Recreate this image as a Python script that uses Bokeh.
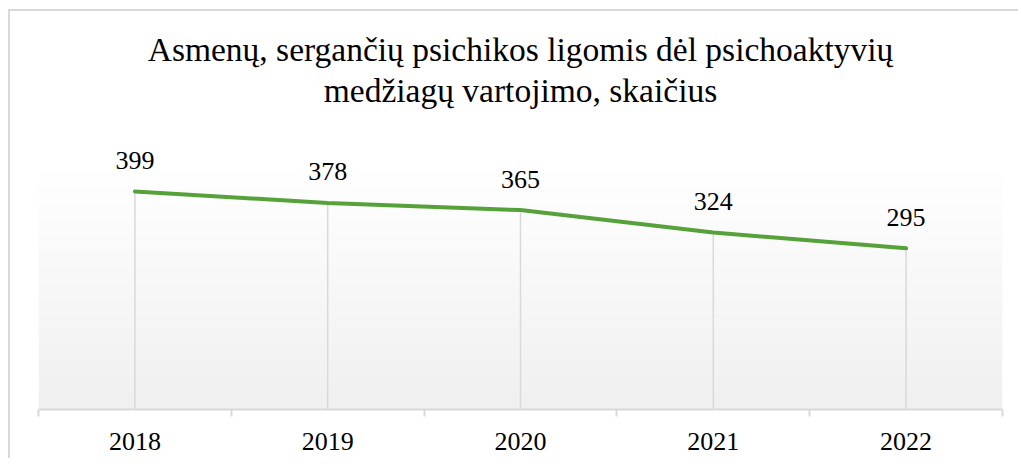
import numpy as np
from bokeh.plotting import figure
from bokeh.models import FixedTicker, ColumnDataSource, Title
from bokeh.core.properties import value
from bokeh.embed import file_html
from bokeh.resources import INLINE

title_lines = ["Asmenų, sergančių psichikos ligomis dėl psichoaktyvių",
               "medžiagų vartojimo, skaičius"]
years = ["2018", "2019", "2020", "2021", "2022"]
counts = [399, 378, 365, 324, 295]

FONT = "Liberation Serif"
pos = list(range(len(years)))
src = ColumnDataSource(dict(x=pos, y=counts, lbl=[str(c) for c in counts], zero=[0] * len(counts)))

YMAX_BG = 436
# figure is inset by a margin + 2px border (left/top), so its own size is reduced accordingly
p = figure(width=1010, height=449, output_backend="svg", toolbar_location=None,
           x_range=(-0.5, len(years) - 0.5), y_range=(0, 529), title=None,
           min_border_left=28, min_border_right=18, min_border_top=109, min_border_bottom=51)
p.styles = {"margin-left": "8px", "margin-top": "9px",
            "border-left": "2px solid #d9d9d9", "border-top": "2px solid #d9d9d9"}

t2 = Title(text=title_lines[1], align="center", text_font=FONT, text_font_size="33.5px",
           text_font_style="normal", text_color="#000000", standoff=23)
t1 = Title(text=title_lines[0], align="center", text_font=FONT, text_font_size="33.5px",
           text_font_style="normal", text_color="#000000", standoff=-18)
p.add_layout(t2, "above")
p.add_layout(t1, "above")

p.outline_line_color = None
p.background_fill_color = None
p.border_fill_color = "white"
p.grid.visible = False
p.yaxis.visible = False

# plot-area gradient
ny = 200
col = np.linspace(240, 255, ny).astype(np.uint8)
img = np.zeros((ny, 1), dtype=np.uint32)
view = img.view(dtype=np.uint8).reshape((ny, 1, 4))
view[:, 0, 0] = col
view[:, 0, 1] = col
view[:, 0, 2] = col
view[:, 0, 3] = 255
p.image_rgba(image=[img], x=-0.5, y=0, dw=len(years), dh=YMAX_BG)

# drop lines
p.segment(x0="x", y0="zero", x1="x", y1="y", source=src, line_color="#d9d9d9", line_width=1.5)

p.line("x", "y", source=src, line_color="#56a13a", line_width=4, line_join="round", line_cap="round")

p.text(x="x", y="y", text="lbl", source=src, text_font=value(FONT), text_font_size="26px",
       text_align="center", text_baseline="alphabetic", y_offset=-31, text_color="#000000")

xa = p.xaxis[0]
xa.ticker = FixedTicker(ticks=pos, minor_ticks=[i - 0.5 for i in range(len(years) + 1)])
xa.major_label_overrides = {i: y for i, y in enumerate(years)}
xa.major_label_text_font = FONT
xa.major_label_text_font_size = "26px"
xa.major_label_text_color = "#000000"
xa.major_tick_line_color = None
xa.major_tick_out = 0
xa.major_tick_in = 0
xa.minor_tick_line_color = "#d9d9d9"
xa.minor_tick_line_width = 2
xa.minor_tick_out = 7
xa.minor_tick_in = 0
xa.axis_line_color = "#d9d9d9"
xa.axis_line_width = 2
xa.major_label_standoff = 16

open("out.html", "w").write(file_html(p, INLINE))
